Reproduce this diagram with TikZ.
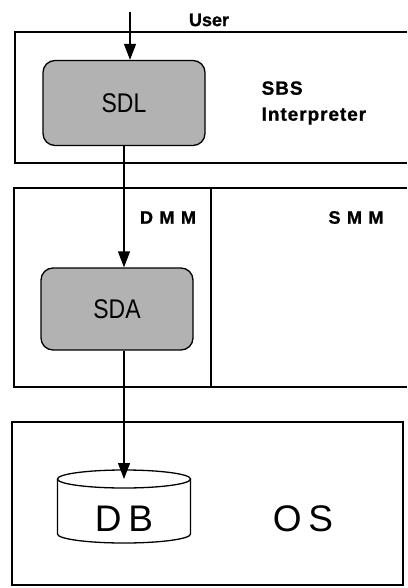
\documentclass[tikz,border=0pt]{standalone}
\usepackage{fontspec}
\setmainfont{Liberation Sans}
\newfontfamily\narrowfont[FakeStretch=0.85]{Liberation Sans}
\newfontfamily\tagfont[LetterSpace=5,FakeBold=1]{Liberation Sans}
\newfontfamily\widetagfont[LetterSpace=36,FakeBold=1]{Liberation Sans}
\newfontfamily\userfont[FakeBold=1]{Liberation Sans}
\newfontfamily\bigfont[LetterSpace=18]{Liberation Sans}
\usetikzlibrary{arrows.meta}

\begin{document}
\begin{tikzpicture}[x=1pt, y=-1pt, line width=1.3pt,
  module/.style={draw, rounded corners=12pt, fill=black!30, inner sep=0pt,
    font=\narrowfont\fontsize{27}{30}\selectfont},
  tag/.style={inner sep=0pt, font=\tagfont\bfseries\fontsize{19}{26}\selectfont},
  widetag/.style={inner sep=0pt, font=\widetagfont\bfseries\fontsize{18}{20}\selectfont},
  big/.style={inner sep=0pt, font=\bigfont\fontsize{37}{40}\selectfont},
  flow/.style={-{Triangle[length=16pt,width=12pt]}}]
\useasboundingbox (0,0) rectangle (407,588);

%%% layers %%%
      % interpreter layer
      \draw (407,32) -- (15,32) -- (15,163) -- (407,163);
      % memory layer
      \draw (407,188) -- (14,188) -- (14,387) -- (407,387);
      \draw (211,188) -- (211,387);
      % OS layer
      \draw (12,422) rectangle (403,585);

%%% modules %%%
      \node[module, minimum width=162pt, minimum height=85pt] (sdl) at (124,103) {SDL};
      \node[module, minimum width=152pt, minimum height=82pt] (sda) at (117,309) {SDA};

      %% database
      \coordinate (dbtop) at (124,479);
      \node[big] (db) at (124,519) {DB};
      \node[big] (os) at (303,519) {OS};

%%% labels %%%
      \node[inner sep=0pt, font=\userfont\bfseries\fontsize{18}{20}\selectfont] (user) at (209,20) {User};
      \node[tag, anchor=west, align=left] (sbs) at (261,103) {SBS\\Interpreter};
      \node[widetag] (dmm) at (168,217.5) {DMM};
      \node[widetag] (smm) at (356,217.5) {SMM};

%%% flow %%%
      \coordinate (userin) at (130,12);
      \draw[flow] (userin) -- (userin |- sdl.north);
      \draw[flow] (sdl.south) -- (sdl.south |- sda.north);
      \draw[flow] (sda.south -| dbtop) -- (dbtop);

      \draw (dbtop) ellipse [x radius=66.5pt, y radius=9pt];
      \draw ([xshift=-66.5pt]dbtop) -- ++(0,55)
        arc[start angle=180, end angle=360, x radius=66.5pt, y radius=9pt]
        -- ([xshift=66.5pt]dbtop);

\end{tikzpicture}
\end{document}
